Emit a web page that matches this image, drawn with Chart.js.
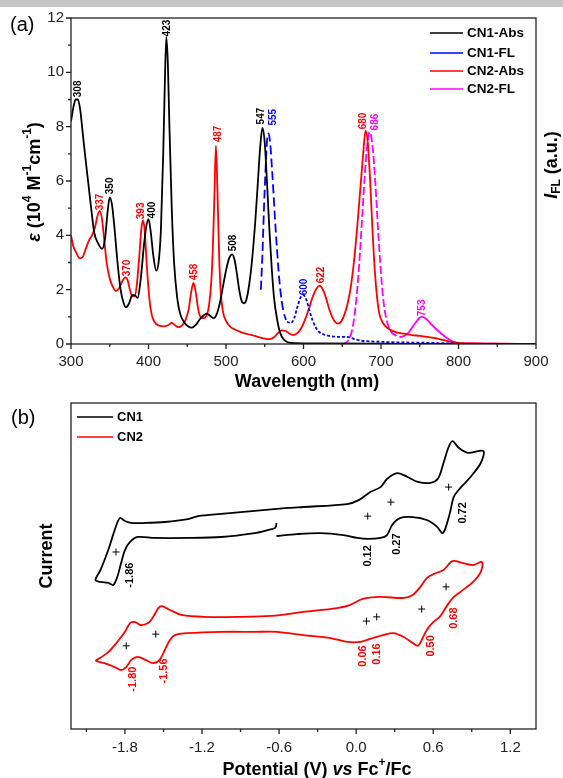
<!DOCTYPE html>
<html>
<head>
<meta charset="utf-8">
<script src="https://cdn.jsdelivr.net/npm/chart.js@4.4.1/dist/chart.umd.min.js"></script>
<style>
html, body { margin: 0; padding: 0; background: #fff; }
body { width: 563px; height: 778px; position: relative; overflow: hidden; }
#bar { position: absolute; left: 0; top: 0; width: 563px; height: 7px; background: #c6c6c6; }
#wrapA { position: absolute; left: 0; top: 0; width: 563px; height: 400px; }
#wrapB { position: absolute; left: 0; top: 390px; width: 563px; height: 388px; }
</style>
</head>
<body>
<div id="wrapA"><canvas id="chartA"></canvas></div>
<div id="wrapB"><canvas id="chartB"></canvas></div>
<div id="bar"></div>
<script>
'use strict';

// ── (a) absorption / fluorescence spectra ──
const wlCN1Abs  = [300,303,306,309,312,315,318,322,326,330,335,340,344,347,350,353,356,360,364,368,371,375,379,382,386,390,394,397,400,403,406,410,413,416,419,421,423,425,427,430,433,437,441,446,451,456,461,466,471,475,479,484,488,492,496,500,504,508,511,514,517,520,523,526,530,534,538,541,544,547,550,553,556,559,562,566,570,575,580,590,620,700,800,900];
const epsCN1Abs = [8.2,8.7,9.0,9.0,8.6,7.8,7.0,6.0,5.0,4.1,3.7,3.5,3.9,4.8,5.4,5.1,4.3,3.0,2.0,1.5,1.35,1.5,1.8,1.8,1.7,2.4,3.6,4.3,4.6,4.1,3.3,2.7,3.0,4.2,7.0,9.5,11.3,10.3,8.0,5.0,3.0,1.7,1.1,0.8,0.65,0.6,0.7,0.9,1.05,1.12,1.05,0.95,1.1,1.5,2.1,2.7,3.15,3.3,3.1,2.6,2.0,1.6,1.5,1.6,2.2,3.2,4.6,5.9,7.2,7.95,7.4,5.9,4.2,2.8,1.7,0.9,0.4,0.15,0.06,0.03,0.02,0.01,0,0];

const wlCN2Abs  = [300,303,307,311,315,319,323,327,331,334,337,340,343,346,350,354,358,362,366,370,373,376,379,382,385,388,391,393,395,398,401,404,408,413,420,426,430,434,438,443,448,452,455,458,461,464,467,471,475,478,481,483,485,487,489,491,493,496,500,505,510,520,530,540,550,556,562,567,572,577,582,587,592,597,602,607,612,617,621,625,629,633,637,641,645,649,653,657,661,665,669,673,677,680,683,686,689,692,695,698,702,707,712,720,730,740,750,760,770,780,790,800,820,860,900];
const epsCN2Abs = [4.0,3.6,3.35,3.15,3.2,3.5,3.8,4.0,4.3,4.7,4.9,4.6,3.8,3.0,2.4,2.1,1.95,2.05,2.3,2.45,2.35,2.0,1.75,1.75,2.2,3.2,4.3,4.55,4.2,2.8,1.7,1.1,0.8,0.68,0.65,0.7,0.78,0.7,0.62,0.68,0.9,1.3,1.9,2.25,1.9,1.3,1.0,0.95,1.05,1.4,2.3,3.5,5.4,7.3,5.6,3.4,2.0,1.2,0.85,0.65,0.55,0.43,0.35,0.27,0.2,0.18,0.25,0.4,0.5,0.48,0.38,0.33,0.4,0.58,0.9,1.3,1.75,2.05,2.15,2.0,1.7,1.3,1.0,0.8,0.75,0.85,1.1,1.5,2.1,3.0,4.2,5.6,7.0,7.85,7.4,6.0,4.2,2.7,1.7,1.1,0.8,0.62,0.52,0.43,0.38,0.33,0.3,0.26,0.22,0.15,0.08,0.04,0.02,0.01,0];

const wlCN1FL  = [545,547,549,551,553,555,557,559,561,563,566,569,572,576,580,584,588,592,596,600,604,608,612,616,620,626,633,640,648,656,662,668,675,685,700,720,750,780,800];
const intCN1FL = [2.0,3.3,5.0,6.4,7.5,7.75,7.4,6.6,5.7,4.7,3.4,2.3,1.55,1.0,0.8,0.78,0.95,1.35,1.7,1.8,1.6,1.2,0.85,0.6,0.45,0.35,0.3,0.27,0.26,0.26,0.22,0.16,0.12,0.1,0.08,0.06,0.05,0.03,0.02];

const wlCN2FL  = [650,655,660,664,668,672,676,680,683,685,687,690,693,696,699,702,705,709,713,718,724,730,735,740,745,750,753,757,761,765,770,775,780,785,790,795,800,820,850];
const intCN2FL = [0,0.05,0.25,0.7,1.6,3.0,4.8,6.6,7.5,7.8,7.7,7.0,5.8,4.3,3.0,1.9,1.2,0.7,0.45,0.33,0.26,0.3,0.4,0.6,0.8,0.97,1.0,0.95,0.85,0.72,0.58,0.45,0.33,0.22,0.13,0.07,0.04,0.02,0.01];

const specNames  = ['CN1-Abs', 'CN1-FL', 'CN2-Abs', 'CN2-FL'];
const specColors = ['#000000', '#0000ff', '#ff0000', '#ff00ff'];

const specPeakText  = ['308','350','400','423','508','547','555','600','337','370','393','458','487','622','680','686','753'];
const specPeakWl    = [309, 350, 404.5, 424, 509, 546, 560.6, 600.6, 337.4, 372, 390, 458.7, 489.7, 622.6, 676.8, 692, 752.9];
const specPeakEps   = [9.39, 5.82, 4.93, 11.63, 3.72, 8.39, 8.35, 2.10, 5.23, 2.80, 4.90, 2.65, 7.73, 2.54, 8.21, 8.17, 1.33];
const specPeakColor = ['#000','#000','#000','#000','#000','#000','#00f','#00f','#f00','#f00','#f00','#f00','#f00','#f00','#f00','#f0f','#f0f'];

const xTicksA  = [300, 400, 500, 600, 700, 800, 900];
const xMinorA  = [350, 450, 550, 650, 750, 850];
const yTicksA  = [0, 2, 4, 6, 8, 10, 12];
const yMinorA  = [1, 3, 5, 7, 9, 11];

// ── (b) cyclic voltammograms (current in arbitrary units) ──
const cn1Potential = [-0.62,-0.63,-0.69,-0.79,-1.05,-1.31,-1.57,-1.70,-1.76,-1.80,-1.83,-1.86,-1.89,-1.93,-1.99,-2.03,-1.99,-1.93,-1.88,-1.84,-1.80,-1.75,-1.64,-1.49,-1.31,-1.23,-1.05,-0.79,-0.53,-0.41,-0.07,0.02,0.11,0.19,0.24,0.32,0.40,0.48,0.58,0.64,0.68,0.72,0.75,0.80,0.87,0.99,0.97,0.89,0.81,0.76,0.73,0.69,0.67,0.63,0.55,0.44,0.34,0.28,0.24,0.19,0.09,0.01,-0.10,-0.28,-0.46,-0.62];
const cn1Current   = [63.2,61.7,61.0,60.1,58.9,58.6,58.6,58.9,57.4,54.9,50.9,46.6,44.2,44.8,45.1,45.7,48.8,54.9,61.0,64.7,63.8,63.2,63.2,63.5,64.4,65.3,66.0,66.9,67.8,68.1,69.0,70.2,72.7,74.2,76.7,78.5,77.3,75.8,75.5,77.0,81.6,86.5,88.3,86.2,84.7,85.3,81.6,77.3,73.9,71.2,66.3,61.0,60.1,62.0,64.1,65.0,64.7,62.6,59.5,58.6,58.3,58.6,59.5,60.1,59.8,59.2];

const cn2Potential = [-2.03,-1.93,-1.86,-1.80,-1.76,-1.72,-1.68,-1.62,-1.58,-1.54,-1.51,-1.45,-1.36,-1.18,-0.92,-0.66,-0.41,-0.15,-0.05,0.05,0.19,0.37,0.44,0.50,0.55,0.60,0.68,0.75,0.83,0.91,0.98,0.97,0.91,0.83,0.76,0.71,0.65,0.60,0.55,0.51,0.48,0.44,0.37,0.29,0.21,0.13,0.03,-0.07,-0.20,-0.41,-0.62,-0.79,-1.05,-1.31,-1.41,-1.45,-1.49,-1.53,-1.58,-1.64,-1.70,-1.75,-1.79,-1.83,-1.88,-1.96,-2.03];
const cn2Current   = [20.9,23.6,26.7,29.8,32.5,32.8,31.9,32.5,34.4,37.1,37.7,36.5,35.0,34.4,34.4,34.7,35.9,37.1,38.0,39.9,40.5,40.2,41.1,43.6,46.3,47.5,48.8,51.5,50.9,50.3,51.2,48.2,45.1,42.6,40.5,38.0,34.4,32.8,30.4,27.3,25.5,26.4,28.2,29.4,28.8,27.9,26.7,26.7,27.9,28.8,29.8,29.8,29.8,29.4,28.8,27.3,24.2,21.2,20.2,21.2,22.1,21.2,19.0,18.1,19.0,20.2,20.9];

const crossPotential = [-1.87, 0.09, 0.27, 0.72, -1.79, -1.56, 0.08, 0.16, 0.51, 0.70];
const crossCurrent   = [54.3, 65.3, 69.6, 74.2, 25.5, 29.1, 33.1, 34.4, 36.8, 43.6];

const cvNames  = ['CN1', 'CN2'];
const cvColors = ['#000000', '#ff0000'];

const cvPeakText  = ['-1.86','0.12','0.27','0.72','-1.80','-1.56','0.06','0.16','0.50','0.68'];
const cvPeakE     = [-1.76, 0.09, 0.32, 0.83, -1.74, -1.50, 0.05, 0.16, 0.58, 0.76];
const cvPeakI     = [47.2, 53.1, 56.7, 66.3, 15.3, 17.8, 22.4, 23.0, 25.5, 34.0];
const cvPeakColor = ['#000','#000','#000','#000','#f00','#f00','#f00','#f00','#f00','#f00'];

const xTicksB = [-1.8, -1.2, -0.6, 0, 0.6, 1.2];
const xMinorB = [-2.1, -1.5, -0.9, -0.3, 0.3, 0.9];

// ── helpers ──
const FONT = '"Liberation Sans", Arial, Helvetica, sans-serif';
const zip = (xs, ys) => xs.map((x, i) => ({ x, y: ys[i] }));

function drawRich(ctx, cx, cy, parts, angle) {
    ctx.save();
    let w = 0;
    parts.forEach(p => { ctx.font = p.f; p.w = ctx.measureText(p.t).width; w += p.w; });
    ctx.translate(cx, cy);
    ctx.rotate(angle);
    ctx.textBaseline = 'middle';
    ctx.textAlign = 'left';
    ctx.fillStyle = '#000';
    let x = -w / 2;
    parts.forEach(p => { ctx.font = p.f; ctx.fillText(p.t, x, p.dy || 0); x += p.w; });
    ctx.restore();
}

function drawFrame(chart, xMajor, xMinor, yMajor, yMinor) {
    const { ctx, chartArea: a, scales: { x, y } } = chart;
    ctx.save();
    ctx.strokeStyle = '#222';
    ctx.lineWidth = 1.3;
    ctx.strokeRect(a.left, a.top, a.right - a.left, a.bottom - a.top);
    ctx.beginPath();
    xMajor.forEach(v => { const p = x.getPixelForValue(v); ctx.moveTo(p, a.bottom); ctx.lineTo(p, a.bottom + 5); });
    xMinor.forEach(v => { const p = x.getPixelForValue(v); ctx.moveTo(p, a.bottom); ctx.lineTo(p, a.bottom + 3); });
    yMajor.forEach(v => { const p = y.getPixelForValue(v); ctx.moveTo(a.left, p); ctx.lineTo(a.left - 5, p); });
    yMinor.forEach(v => { const p = y.getPixelForValue(v); ctx.moveTo(a.left, p); ctx.lineTo(a.left - 3, p); });
    ctx.stroke();
    ctx.restore();
}

function drawPeakLabels(chart, texts, xs, ys, colors, size) {
    const { ctx, scales: { x, y } } = chart;
    ctx.save();
    ctx.font = 'bold ' + size + 'px ' + FONT;
    ctx.textAlign = 'center';
    ctx.textBaseline = 'middle';
    texts.forEach((t, i) => {
        ctx.save();
        ctx.translate(x.getPixelForValue(xs[i]), y.getPixelForValue(ys[i]));
        ctx.rotate(-Math.PI / 2);
        ctx.fillStyle = colors[i];
        ctx.fillText(t, 0, 0);
        ctx.restore();
    });
    ctx.restore();
}

function drawLegend(ctx, names, colors, x0, x1, tx, ys, size) {
    ctx.save();
    ctx.font = 'bold ' + size + 'px ' + FONT;
    ctx.textBaseline = 'middle';
    ctx.textAlign = 'left';
    names.forEach((n, i) => {
        ctx.strokeStyle = colors[i];
        ctx.lineWidth = 1.5;
        ctx.beginPath(); ctx.moveTo(x0, ys[i]); ctx.lineTo(x1, ys[i]); ctx.stroke();
        ctx.fillStyle = '#000';
        ctx.fillText(n, tx, ys[i]);
    });
    ctx.restore();
}

const tickFont = { family: FONT, size: 15 };

// ── chart (a) ──
const decorA = {
    id: 'decorA',
    afterDatasetsDraw(chart) {
        const ctx = chart.ctx;
        drawFrame(chart, xTicksA, xMinorA, yTicksA, yMinorA);
        drawPeakLabels(chart, specPeakText, specPeakWl, specPeakEps, specPeakColor, 10);
        drawLegend(ctx, specNames, specColors, 430, 463, 467, [33, 53, 71, 89], 13.5);
        ctx.save();
        ctx.font = '20px ' + FONT; ctx.fillStyle = '#000'; ctx.textBaseline = 'middle';
        ctx.fillText('(a)', 10, 25);
        ctx.restore();
        const B = 'bold 18px ' + FONT, S = 'bold 12px ' + FONT;
        drawRich(ctx, 35, 182, [
            { t: 'ε', f: 'italic bold 18px ' + FONT },
            { t: ' (10', f: B }, { t: '4', f: S, dy: -7 },
            { t: ' M', f: B }, { t: '-1', f: S, dy: -7 },
            { t: 'cm', f: B }, { t: '-1', f: S, dy: -7 },
            { t: ')', f: B }
        ], -Math.PI / 2);
        drawRich(ctx, 552, 165, [
            { t: 'I', f: 'italic bold 18px ' + FONT },
            { t: 'FL', f: S, dy: 5 },
            { t: ' (a.u.)', f: B }
        ], -Math.PI / 2);
        drawRich(ctx, 307, 382, [{ t: 'Wavelength (nm)', f: B }], 0);
    }
};

// dash style per segment: long dashes on the main band, short dashes / solid on the weak band
const blueDash = c => (c.p0.parsed.x < 575 ? [9, 4] : [3, 2]);
const magentaDash = c => (c.p0.parsed.x < 722 ? [8, 3] : undefined);

const specSets = [
    [wlCN1Abs, epsCN1Abs, []],
    [wlCN1FL, intCN1FL, [6, 3], blueDash],
    [wlCN2Abs, epsCN2Abs, []],
    [wlCN2FL, intCN2FL, [], magentaDash]
];

new Chart(document.getElementById('chartA'), {
    type: 'line',
    data: {
        datasets: specSets.map((s, i) => ({
            label: specNames[i],
            data: zip(s[0], s[1]),
            borderColor: specColors[i],
            borderWidth: 1.8,
            borderDash: s[2],
            segment: s[3] ? { borderDash: s[3] } : undefined,
            pointRadius: 0,
            fill: false,
            cubicInterpolationMode: 'monotone'
        }))
    },
    options: {
        responsive: true, maintainAspectRatio: false, animation: false,
        layout: { padding: { top: 18, right: 27, left: 0, bottom: 0 } },
        plugins: { legend: { display: false }, tooltip: { enabled: false } },
        scales: {
            x: {
                type: 'linear', min: 300, max: 900,
                afterBuildTicks: s => { s.ticks = xTicksA.map(v => ({ value: v })); },
                afterFit: s => { s.height = 56; },
                ticks: { font: tickFont, color: '#222', padding: 9, maxRotation: 0, callback: v => String(v) },
                grid: { display: false, drawTicks: false },
                border: { display: false }
            },
            y: {
                min: 0, max: 12,
                afterBuildTicks: s => { s.ticks = yTicksA.map(v => ({ value: v })); },
                afterFit: s => { s.width = 71; },
                ticks: { font: tickFont, color: '#222', padding: 7, callback: v => String(v) },
                grid: { display: false, drawTicks: false },
                border: { display: false }
            }
        }
    },
    plugins: [decorA]
});

// ── chart (b) ──
const decorB = {
    id: 'decorB',
    afterDatasetsDraw(chart) {
        const ctx = chart.ctx;
        drawFrame(chart, xTicksB, xMinorB, [], []);
        drawPeakLabels(chart, cvPeakText, cvPeakE, cvPeakI, cvPeakColor, 11);
        drawLegend(ctx, cvNames, cvColors, 77, 113, 117, [27, 47], 13);
        ctx.save();
        ctx.font = '20px ' + FONT; ctx.fillStyle = '#000'; ctx.textBaseline = 'middle';
        ctx.fillText('(b)', 11, 28);
        ctx.restore();
        const B = 'bold 18px ' + FONT, S = 'bold 12px ' + FONT;
        drawRich(ctx, 47, 166, [{ t: 'Current', f: B }], -Math.PI / 2);
        drawRich(ctx, 317, 380, [
            { t: 'Potential (V) ', f: B },
            { t: 'vs', f: 'italic bold 18px ' + FONT },
            { t: ' Fc', f: B }, { t: '+', f: S, dy: -7 },
            { t: '/Fc', f: B }
        ], 0);
    }
};

new Chart(document.getElementById('chartB'), {
    type: 'scatter',
    data: {
        datasets: [
            { label: 'CN1', data: zip(cn1Potential, cn1Current), showLine: true, borderColor: cvColors[0], borderWidth: 1.8, pointRadius: 0, tension: 0.3 },
            { label: 'CN2', data: zip(cn2Potential, cn2Current), showLine: true, borderColor: cvColors[1], borderWidth: 1.8, pointRadius: 0, tension: 0.3 },
            { label: 'E1/2', data: zip(crossPotential, crossCurrent), pointStyle: 'cross', pointRadius: 3.5, borderColor: '#000', borderWidth: 1, showLine: false }
        ]
    },
    options: {
        responsive: true, maintainAspectRatio: false, animation: false,
        layout: { padding: { top: 13, right: 27, left: 0, bottom: 0 } },
        plugins: { legend: { display: false }, tooltip: { enabled: false } },
        scales: {
            x: {
                type: 'linear', min: -2.22, max: 1.40,
                afterBuildTicks: s => { s.ticks = xTicksB.map(v => ({ value: v })); },
                afterFit: s => { s.height = 49; },
                ticks: { font: tickFont, color: '#222', padding: 10, maxRotation: 0, callback: v => Number(v).toFixed(1) },
                grid: { display: false, drawTicks: false },
                border: { display: false }
            },
            y: {
                min: 0, max: 100,
                afterFit: s => { s.width = 71; },
                ticks: { display: false },
                grid: { display: false, drawTicks: false },
                border: { display: false }
            }
        }
    },
    plugins: [decorB]
});
</script>
</body>
</html>
